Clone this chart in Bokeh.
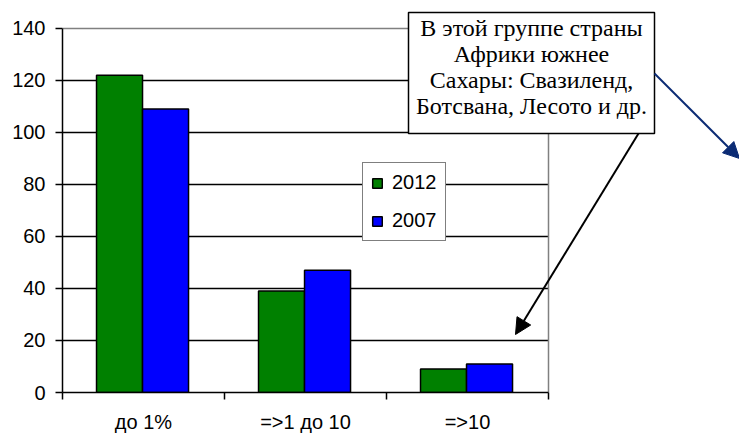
from bokeh.plotting import figure
from bokeh.models import (ColumnDataSource, FixedTicker, Legend, LegendItem, Label,
                          Arrow, NormalHead, PolyAnnotation, Range1d)
from bokeh.embed import file_html
from bokeh.resources import INLINE

categories = ["до 1%", "=>1 до 10", "=>10"]
series_names = ["2012", "2007"]
values_2012 = [122, 39, 9]
values_2007 = [109, 47, 11]
y_ticks = [0, 20, 40, 60, 80, 100, 120, 140]
note_text = "В этой группе страны\nАфрики южнее\nСахары: Свазиленд,\nБотсвана, Лесото и др."

W, H = 739, 435
FL, FB = 62, 393          # frame left / axis baseline (canvas px)
PX_X = 162.0              # px per category
PX_Y = 365.0 / 140        # px per unit
n = len(categories)
ymax = y_ticks[-1]

p = figure(width=W, height=H, output_backend="svg", toolbar_location=None,
           x_range=Range1d(0, (W - FL) / PX_X), y_range=Range1d(0, FB / PX_Y),
           min_border_left=FL, min_border_right=0, min_border_top=0,
           min_border_bottom=H - FB)
p.background_fill_color = "white"
p.border_fill_color = "white"
p.outline_line_color = None
p.xgrid.grid_line_color = None
p.ygrid.grid_line_color = None

# gridlines (black) and plot-area border (gray)
grid_y = y_ticks[1:-1]
p.segment(x0=[0] * len(grid_y), x1=[n] * len(grid_y), y0=grid_y, y1=grid_y,
          line_color="black", line_width=1.5)
p.segment(x0=[0, n], x1=[n, n], y0=[ymax, 0], y1=[ymax, ymax],
          line_color="#808080", line_width=1.5)

centers = [i + 0.494 for i in range(n)]
bw = 0.284
src = ColumnDataSource(dict(
    x12=[c - bw / 2 for c in centers], x07=[c + bw / 2 for c in centers],
    v12=values_2012, v07=values_2007))

r1 = p.vbar(x="x12", top="v12", width=bw, source=src, fill_color="#008000",
            line_color="black", line_width=1.5)
r2 = p.vbar(x="x07", top="v07", width=bw, source=src, fill_color="#0000FF",
            line_color="black", line_width=1.5)

# axes
ya = p.yaxis[0]
ya.bounds = (0, ymax)
ya.ticker = FixedTicker(ticks=y_ticks)
ya.axis_line_color = "black"
ya.axis_line_width = 1.5
ya.major_tick_out = 7
ya.major_tick_in = 0
ya.major_tick_line_width = 1.5
ya.minor_tick_line_color = None
ya.major_label_text_font = "Liberation Sans"
ya.major_label_text_font_size = "20px"
ya.major_label_text_color = "black"
ya.major_label_standoff = 10

xa = p.xaxis[0]
xa.bounds = (0, n)
xa.ticker = FixedTicker(ticks=[i + 0.5 for i in range(n)],
                        minor_ticks=list(range(n + 1)))
xa.major_label_overrides = {i + 0.5: c for i, c in enumerate(categories)}
xa.axis_line_color = "black"
xa.axis_line_width = 1.5
xa.major_tick_line_color = None
xa.major_tick_out = 0
xa.major_tick_in = 0
xa.minor_tick_out = 7
xa.minor_tick_in = 0
xa.minor_tick_line_color = "black"
xa.minor_tick_line_width = 1.5
xa.major_label_text_font = "Liberation Sans"
xa.major_label_text_font_size = "20px"
xa.major_label_text_color = "black"
xa.major_label_standoff = 11

legend = Legend(items=[LegendItem(label=series_names[0], renderers=[r1]),
                       LegendItem(label=series_names[1], renderers=[r2])],
                location=(300, 151))
legend.border_line_color = "black"
legend.border_line_width = 1.5
legend.background_fill_alpha = 1
legend.label_text_font = "Liberation Sans"
legend.label_text_font_size = "20px"
legend.label_text_color = "black"
legend.glyph_width = 12
legend.glyph_height = 12
legend.label_height = 23
legend.spacing = 15
legend.padding = 8
legend.margin = 0
legend.label_standoff = 9
p.add_layout(legend, "center")

# note box (canvas coords)
box = PolyAnnotation(xs=[408, 654, 654, 408], ys=[12, 12, 133, 133],
                     xs_units="canvas", ys_units="canvas",
                     fill_color="white", fill_alpha=1, line_color="black",
                     line_alpha=1, line_width=1.5)
p.add_layout(box)
lab = Label(x=531, y=14, x_units="canvas", y_units="canvas", text=note_text,
            text_align="center", text_baseline="top", text_font="Liberation Serif",
            text_font_size="24px", text_line_height=1.01, text_color="black")
p.add_layout(lab)

p.add_layout(Arrow(x_start=638, y_start=133, x_end=515, y_end=334,
                   start_units="canvas", end_units="canvas", line_color="black", line_width=2,
                   end=NormalHead(size=16, fill_color="black", line_color="black")))
p.add_layout(Arrow(x_start=654, y_start=73, x_end=739, y_end=158,
                   start_units="canvas", end_units="canvas", line_color="#0b2b74", line_width=2,
                   end=NormalHead(size=16, fill_color="#0b2b74", line_color="#0b2b74")))

open("out.html", "w").write(file_html(p, INLINE))
